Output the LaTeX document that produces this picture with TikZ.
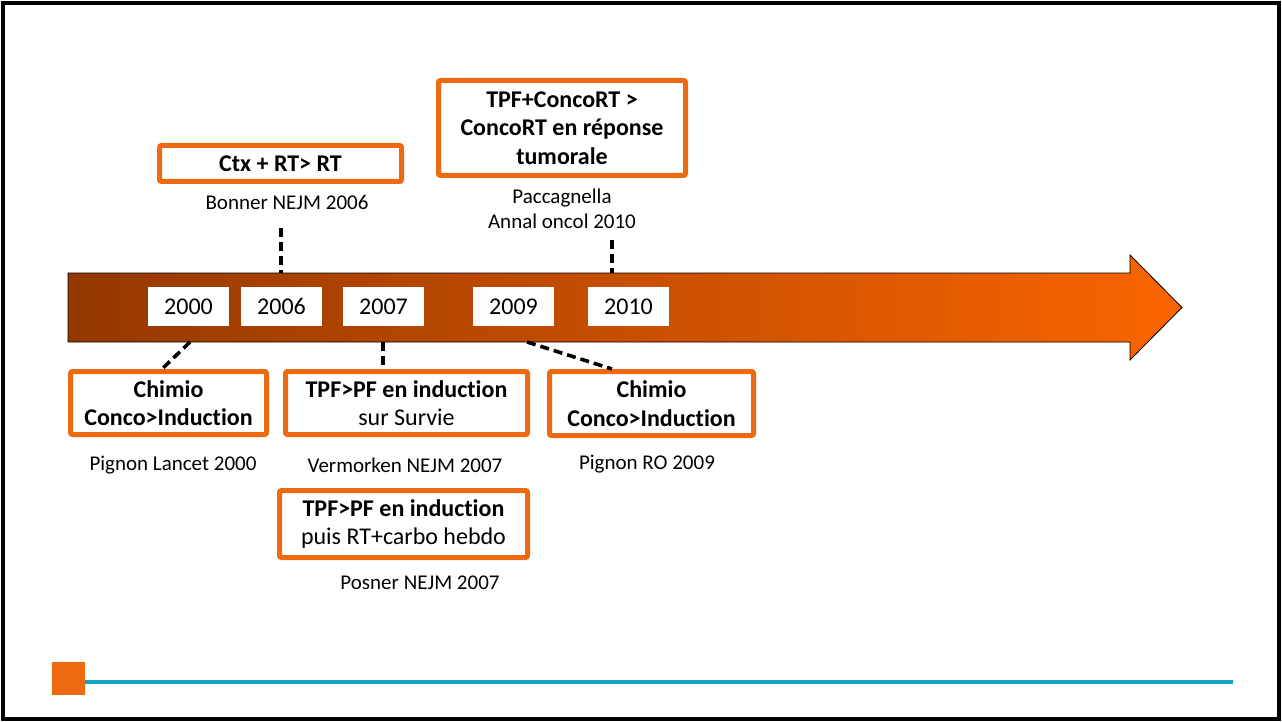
\documentclass[tikz,border=0pt]{standalone}
\usepackage{fontspec}
\setmainfont{Carlito}[Ligatures={NoCommon}]
\definecolor{boxorange}{RGB}{237,106,16}
\definecolor{arrowdark}{RGB}{148,56,0}
\definecolor{arrowlight}{RGB}{250,101,0}
\definecolor{rulecyan}{RGB}{16,163,190}
\begin{document}
\begin{tikzpicture}[x=1pt,y=-1pt,
  result/.style={draw=boxorange, line width=5pt, rounded corners=2pt, fill=white,
    align=center, inner sep=0pt, font=\fontsize{24}{28.5}\selectfont},
  yearbox/.style={fill=white, minimum width=81pt, minimum height=39pt, inner sep=0pt,
    font=\fontsize{24}{28}\selectfont},
  caption/.style={align=center, inner sep=0pt, font=\fontsize{21}{25}\selectfont},
  link/.style={line width=3.6pt, dash pattern=on 9pt off 5pt},
]
\useasboundingbox (0,0) rectangle (1282,722);
\draw[line width=3.5pt] (3,3) rectangle (1279,719);

% timeline arrow
\draw[line width=0.8pt, left color=arrowdark, right color=arrowlight]
  (68,273) -- (1130,273) -- (1130,255) -- (1182,307.5) -- (1130,360)
  -- (1130,342) -- (68,342) -- cycle;

% years
\node[yearbox] (y2000) at (188.5,306.5) {2000};
\node[yearbox] (y2006) at (281.5,306.5) {2006};
\node[yearbox] (y2007) at (383.5,306.5) {2007};
\node[yearbox] (y2009) at (513.5,306.5) {2009};
\node[yearbox] (y2010) at (628.5,306.5) {2010};

% points on the arrow edges where the links start
\coordinate (t2006) at (281,273);
\coordinate (t2010) at (612,273);
\coordinate (b2000) at (190,342);
\coordinate (b2007) at (383,342);
\coordinate (b2009) at (527,342);

% results above the timeline
\node[result, minimum width=242pt, minimum height=36pt] (ctx) at (280.5,163.5)
  {\bfseries Ctx + RT> RT};
\node[caption] (bonner) at (287,202) {Bonner NEJM 2006};
\node[result, minimum width=247pt, minimum height=95pt] (tpfconco) at (562,128)
  {\bfseries TPF+ConcoRT >\\ \bfseries ConcoRT en réponse\\ \bfseries tumorale};
\node[caption] (pacca) at (562,209) {Paccagnella\\Annal oncol 2010};

% results below the timeline
\node[result, minimum width=196pt, minimum height=63pt] (chimioA) at (168.5,403)
  {\bfseries Chimio\\ \bfseries Conco>Induction};
\node[caption] (lancet) at (173,465) {Pignon Lancet 2000};
\node[result, minimum width=242pt, minimum height=63pt] (tpfsurv) at (406.5,403)
  {\bfseries TPF>PF en induction\\ sur Survie};
\node[caption] (vermorken) at (405,465) {Vermorken NEJM 2007};
\node[result, minimum width=204pt, minimum height=64pt] (chimioB) at (651.5,403.5)
  {\bfseries Chimio\\ \bfseries Conco>Induction};
\node[caption] (ro) at (647,464) {Pignon RO 2009};
\node[result, minimum width=248pt, minimum height=67pt] (tpfpuis) at (403.5,524)
  {\bfseries TPF>PF en induction\\ puis RT+carbo hebdo};
\node[caption] (posner) at (420,583) {Posner NEJM 2007};

% dashed links
\coordinate (u2006) at (281,228);
\coordinate (u2010) at (612,240);
\draw[link] (u2006) -- (t2006);
\draw[link] (u2010) -- (t2010);
\draw[link] (b2000) -- (chimioA.north -| 162,0);
\draw[link] (b2007) -- (tpfsurv.north -| 383,0);
\draw[link] (b2009) -- (chimioB.north -| 612,0);

% footer
\node[fill=boxorange, minimum size=33pt, inner sep=0pt] (sq) at (68.5,678.5) {};
\coordinate (ruleend) at (1233,682);
\draw[rulecyan, line width=4.5pt] (sq.east |- ruleend) -- (ruleend);
\end{tikzpicture}
\end{document}
